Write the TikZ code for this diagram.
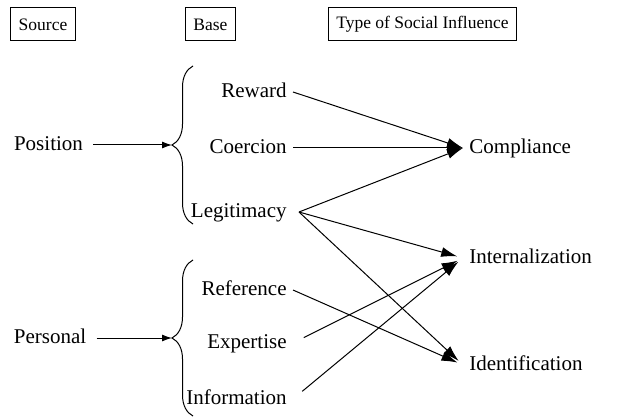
\documentclass[tikz,border=0pt]{standalone}
\usepackage{fontspec}
\setmainfont{Liberation Serif}
\usetikzlibrary{arrows.meta,decorations.pathreplacing}
\tikzset{
  header/.style={draw, line width=0.5pt, font=\fontsize{8.75}{10}\selectfont,
                 minimum height=16.5pt, inner xsep=4pt},
  term/.style={font=\fontsize{10.5}{12}\selectfont, inner sep=3pt,
               text height=1.5ex, text depth=0.25ex},
  influence/.style={-{Latex[length=8pt,width=5pt]}, line width=0.5pt},
  feed/.style={-{Latex[length=5pt,width=3.5pt]}, line width=0.5pt},
  curly/.style={decorate, decoration={brace, amplitude=10.5pt}, line width=0.5pt}
}
\begin{document}
\begin{tikzpicture}[x=0.5pt,y=-0.5pt]
  \useasboundingbox (0,0) rectangle (621,417);
  % column headers
  \node[header] (hsource) at (43,24.5) {Source};
  \node[header] (hbase) at (210.5,24.5) {Base};
  \node[header] (htype) at (422.5,24.5) {Type of Social Influence};

  % sources
  \node[term] (position) at (48.5,145) {Position};
  \node[term] (personal) at (50,338) {Personal};

  % braces
  \coordinate (ptop) at (193,66);
  \coordinate (pbot) at (193,224);
  \coordinate (ptip) at (172,145);
  \draw[curly] (pbot) -- (ptop);
  \draw[feed,shorten <=2pt] (position.east) -- (ptip);

  \coordinate (qtop) at (193,260);
  \coordinate (qbot) at (193,416);
  \coordinate (qtip) at (172,338);
  \draw[curly] (qbot) -- (qtop);
  \draw[feed,shorten <=2pt] (personal.east) -- (qtip);

  % bases
  \node[term,anchor=east] (reward) at (293,92) {Reward};
  \node[term,anchor=east] (coercion) at (293,148) {Coercion};
  \node[term,anchor=east] (legitimacy) at (293,212) {Legitimacy};
  \node[term,anchor=east] (reference) at (293,290) {Reference};
  \node[term,anchor=east] (expertise) at (293,343) {Expertise};
  \node[term,anchor=east] (information) at (293,399) {Information};

  % types of influence
  \node[term,anchor=west] (compliance) at (463,148) {Compliance};
  \node[term,anchor=west] (internalization) at (463,258) {Internalization};
  \node[term,anchor=west] (identification) at (463,365) {Identification};

  % links
  \draw[influence] (reward.east) -- (compliance.west);
  \draw[influence] (coercion.east) -- (compliance.west);
  \coordinate (legit) at ([xshift=3pt]legitimacy.east);
  \draw[influence] (legit) -- (compliance.west);
  \draw[influence,shorten >=3pt] (legit) -- (internalization.west);
  \draw[influence,shorten >=3pt] (legit) -- (identification.west);
  \draw[influence,shorten >=3pt] (reference.east) -- (identification.west);
  \draw[influence,shorten <=6pt,shorten >=3pt] (expertise.east) -- (internalization.west);
  \draw[influence,shorten <=6pt,shorten >=3pt] (information.east) -- (internalization.west);
\end{tikzpicture}
\end{document}
